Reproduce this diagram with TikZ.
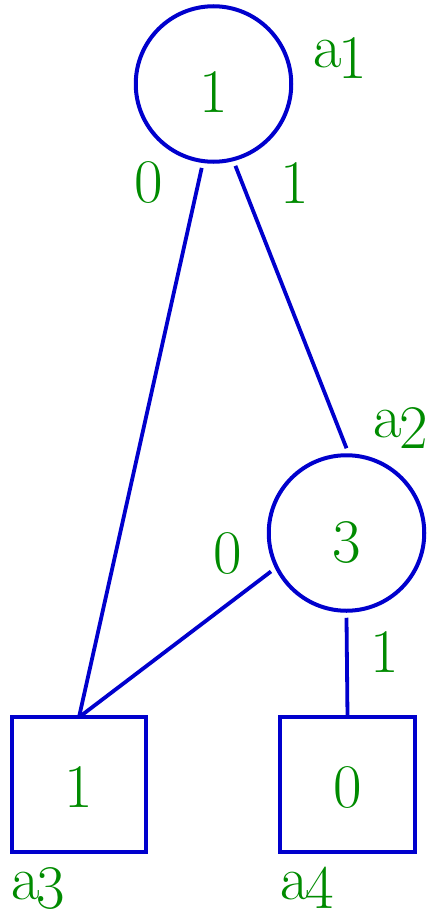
\documentclass[tikz,border=0pt]{standalone}
\definecolor{bddblue}{HTML}{0000CD}
\definecolor{bddgreen}{HTML}{008B00}

\begin{document}
\begin{tikzpicture}[x=1pt, y=-1pt,
    every node/.style={font=\fontsize{62}{66}\selectfont, text=bddgreen},
    decnode/.style={circle, draw=bddblue, line width=4pt, minimum size=155.5pt,
                 inner sep=0pt, outer sep=7pt, text height=58pt, text depth=0pt},
    leafnode/.style={rectangle, draw=bddblue, line width=4pt, minimum size=134.5pt,
                 inner sep=0pt, outer sep=0pt, text height=45pt, text depth=0pt},
    tagtxt/.style={anchor=base west, inner sep=0pt},
    lbl/.style={inner sep=0pt},
    link/.style={draw=bddblue, line width=3.8pt}
  ]
    \useasboundingbox (0,0) rectangle (431,915);
    % decision nodes and leaves
    \node[decnode] (a1) at (213.5,84) {1};
    \node[decnode] (a2) at (346.5,533) {3};
    \node[leafnode] (a3) at (79,784.5) {1};
    \node[leafnode] (a4) at (347.5,784.5) {0};
    % names
    \node[tagtxt] (t1) at (313,68) {a\kern-3pt\raisebox{-11pt}{1}};
    \node[tagtxt] (t2) at (373,437) {a\kern-2pt\raisebox{-11pt}{2}};
    \node[tagtxt] (t3) at (11,899) {a\kern-3pt\raisebox{-9pt}{3}};
    \node[tagtxt] (t4) at (280,899) {a\kern-3pt\raisebox{-9pt}{4}};
    % branches
    \draw[link] (a1.262) -- (a3.north);
    \draw[link] (a1.285) -- (a2.north);
    \draw[link] (a2.207) -- (a3.north);
    \draw[link] (a2.south) -- (a4.north);
    \node[lbl] (e10) at (149,183) {0};
    \node[lbl] (e11) at (295,183) {1};
    \node[lbl] (e20) at (228,553) {0};
    \node[lbl] (e21) at (385,652.5) {1};
\end{tikzpicture}
\end{document}
